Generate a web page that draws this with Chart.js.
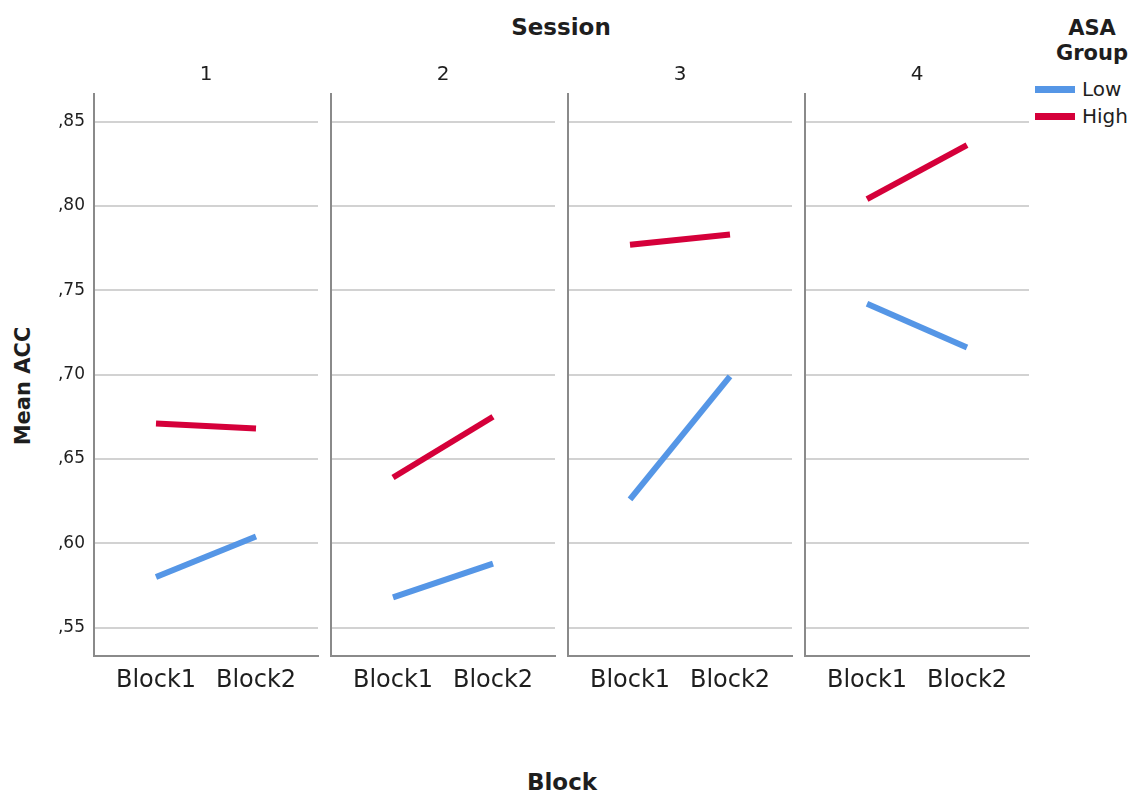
<!DOCTYPE html>
<html>
<head>
<meta charset="utf-8">
<script src="https://cdn.jsdelivr.net/npm/chart.js@4/dist/chart.umd.min.js"></script>
<style>
  html, body { margin: 0; padding: 0; background: #fff; }
  #wrap { position: relative; width: 1134px; height: 793px; overflow: hidden; font-family: 'DejaVu Sans', sans-serif; color: #1e1e1e; }
  #wrap canvas { position: absolute; top: 0; }
  .lbl { position: absolute; transform: translate(-50%, -50%); white-space: nowrap; line-height: 1; }
  .bold { font-weight: bold; }
  #ytitle { transform: translate(-50%, -50%) rotate(-90deg); }
  #legend { position: absolute; left: 1030px; top: 14px; width: 104px; }
  #legend .ttl { font-weight: bold; font-size: 21px; text-align: center; line-height: 25px; margin-left: 20px; margin-top: 2px; }
  #legend .item { position: absolute; left: 5px; height: 26px; display: flex; align-items: center; font-size: 20px; }
  #legend .sw { width: 40px; height: 7px; margin-right: 7px; }
</style>
</head>
<body>
<div id="wrap">
  <div class="lbl bold" style="left:561px; top:27px; font-size:23px;">Session</div>
  <div class="lbl bold" style="left:562px; top:782px; font-size:23px;">Block</div>
  <div id="ytitle" class="lbl bold" style="left:23px; top:386px; font-size:21px;">Mean ACC</div>
  <div id="legend">
    <div class="ttl">ASA<br>Group</div>
  </div>
</div>
<script>
// Session panels, block categories and group means
const sessions = ['1', '2', '3', '4'];
const blocks = ['Block1', 'Block2'];
const groups = ['Low', 'High'];
const lowMeans = [
  [0.580, 0.604],
  [0.568, 0.588],
  [0.626, 0.699],
  [0.742, 0.716]
];
const highMeans = [
  [0.671, 0.668],
  [0.639, 0.675],
  [0.777, 0.783],
  [0.804, 0.836]
];
const yTicks = [0.55, 0.60, 0.65, 0.70, 0.75, 0.80, 0.85];
const yTickLabels = [',55', ',60', ',65', ',70', ',75', ',80', ',85'];

const groupColors = ['#5596E6', '#D5003A'];
const FONT = "'DejaVu Sans', sans-serif";
Chart.defaults.font.family = FONT;
Chart.defaults.color = '#1e1e1e';

// panel geometry
const AREA_LEFT0 = 94, PITCH = 237, AREA_W = 224, RIGHT_PAD = 12, LEFT_PAD = 10;
const H = 793, AREA_TOP = 94, AREA_BOTTOM = 655.7;

// session number centred above each panel's plot area
const panelLabel = {
  id: 'panelLabel',
  afterDraw(chart, args, opts) {
    const { ctx, chartArea } = chart;
    ctx.save();
    ctx.font = '20px ' + FONT;
    ctx.fillStyle = '#1e1e1e';
    ctx.textAlign = 'center';
    ctx.textBaseline = 'middle';
    ctx.fillText(opts.text, (chartArea.left + chartArea.right) / 2, 75);
    ctx.restore();
  }
};

const wrap = document.getElementById('wrap');

// legend
const legend = document.getElementById('legend');
groups.forEach((g, i) => {
  const it = document.createElement('div');
  it.className = 'item';
  it.style.top = (62 + i * 27) + 'px';
  const sw = document.createElement('div');
  sw.className = 'sw';
  sw.style.background = groupColors[i];
  const tx = document.createElement('span');
  tx.textContent = g;
  it.appendChild(sw);
  it.appendChild(tx);
  legend.appendChild(it);
});

sessions.forEach((s, i) => {
  const areaLeft = AREA_LEFT0 + PITCH * i;
  const left = i === 0 ? 0 : areaLeft - LEFT_PAD;
  const width = areaLeft + AREA_W + RIGHT_PAD - left;
  const yAxisW = areaLeft - left;

  const cv = document.createElement('canvas');
  cv.width = width;
  cv.height = H;
  cv.style.left = left + 'px';
  cv.style.width = width + 'px';
  cv.style.height = H + 'px';
  wrap.appendChild(cv);

  const series = [lowMeans[i], highMeans[i]];
  new Chart(cv, {
    type: 'line',
    data: {
      datasets: groups.map((g, k) => ({
        label: g,
        data: series[k].map((v, b) => ({ x: b, y: v })),
        borderColor: groupColors[k],
        backgroundColor: groupColors[k],
        borderWidth: 6,
        borderCapStyle: 'butt',
        pointRadius: 0,
        pointHoverRadius: 0,
        tension: 0
      }))
    },
    plugins: [panelLabel],
    options: {
      responsive: false,
      animation: false,
      events: [],
      layout: { padding: { left: 0, right: RIGHT_PAD, top: AREA_TOP, bottom: 0 } },
      plugins: {
        legend: { display: false },
        tooltip: { enabled: false },
        title: { display: false },
        panelLabel: { text: s }
      },
      scales: {
        x: {
          type: 'linear',
          min: -0.62,
          max: 1.62,
          afterBuildTicks: sc => { sc.ticks = blocks.map((b, j) => ({ value: j })); },
          afterFit: sc => { sc.height = H - AREA_BOTTOM; },
          ticks: {
            autoSkip: false,
            maxRotation: 0,
            padding: 11,
            font: { size: 24 },
            color: '#1e1e1e',
            callback: v => blocks[v]
          },
          grid: { display: false, drawTicks: false },
          border: { display: true, color: '#8a8a8a', width: 2 }
        },
        y: {
          type: 'linear',
          min: 0.5334,
          max: 0.8663,
          afterBuildTicks: sc => { sc.ticks = yTicks.map(v => ({ value: v })); },
          afterFit: sc => { sc.width = yAxisW; },
          ticks: {
            display: i === 0,
            padding: 9,
            font: { size: 17 },
            color: '#1e1e1e',
            callback: (v, idx) => yTickLabels[idx]
          },
          grid: { display: true, drawTicks: false, color: '#d2d2d2', lineWidth: 2 },
          border: { display: true, color: '#8a8a8a', width: 2 }
        }
      }
    }
  });
});
</script>
</body>
</html>
